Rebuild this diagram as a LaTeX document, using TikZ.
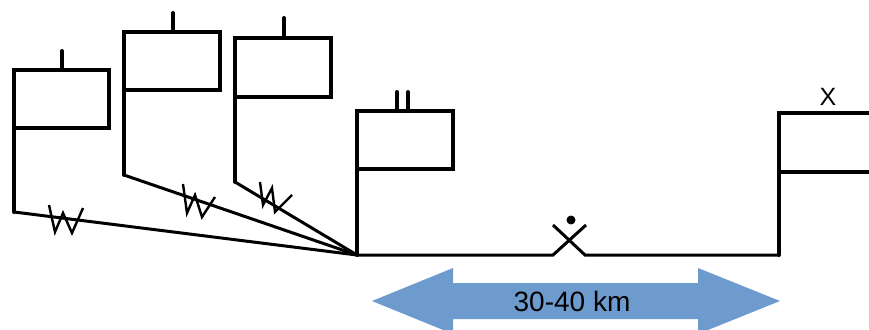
\documentclass[tikz,border=0pt]{standalone}
\usepackage{fontspec}
\setmainfont{Liberation Sans}
\definecolor{arrowblue}{RGB}{110,155,206}
\begin{document}
\begin{tikzpicture}[x=1pt,y=-1pt,
  boxline/.style={line width=4pt, line cap=round, line join=miter},
  wire/.style={line width=3pt, line join=miter},
  zig/.style={line width=2.4pt, line join=miter},
  lbl/.style={inner sep=0pt, font=\fontsize{25}{25}\selectfont}]
\useasboundingbox (0,0) rectangle (869,329);
\clip (0,0) rectangle (869,329);
% hub
\coordinate (hub) at (357,255);
% box 1
\coordinate (b1tl) at (14,70); \coordinate (b1br) at (109,128);
\coordinate (b1t) at (62,51); \coordinate (b1bot) at (14,212);
\draw[boxline] (b1tl) rectangle (b1br);
\draw[boxline] (b1t) -- (b1t |- b1tl);
\draw[boxline] (b1tl |- b1br) -- (b1bot);
\draw[wire] (b1bot) -- (hub);
% box 2
\coordinate (b2tl) at (124,32); \coordinate (b2br) at (220,90);
\coordinate (b2t) at (173,13); \coordinate (b2bot) at (124,175);
\draw[boxline] (b2tl) rectangle (b2br);
\draw[boxline] (b2t) -- (b2t |- b2tl);
\draw[boxline] (b2tl |- b2br) -- (b2bot);
\draw[wire] (b2bot) -- (hub);
% box 3
\coordinate (b3tl) at (235,38); \coordinate (b3br) at (331,97);
\coordinate (b3t) at (284,18); \coordinate (b3bot) at (235,182);
\draw[boxline] (b3tl) rectangle (b3br);
\draw[boxline] (b3t) -- (b3t |- b3tl);
\draw[boxline] (b3tl |- b3br) -- (b3bot);
\draw[wire] (b3bot) -- (hub);
% box 4 (double tick)
\coordinate (b4tl) at (357,111); \coordinate (b4br) at (453,169);
\coordinate (b4ta) at (397,92); \coordinate (b4tb) at (408,92);
\draw[boxline] (b4tl) rectangle (b4br);
\draw[boxline] (b4ta) -- (b4ta |- b4tl);
\draw[boxline] (b4tb) -- (b4tb |- b4tl);
\draw[boxline] (b4tl |- b4br) -- (hub);
% W marks
\draw[zig] (49,205) -- (55,232) -- (63,213) -- (72,233) -- (83,208);
\draw[zig] (183,184) -- (187,213) -- (195,195) -- (202,217) -- (215,197);
\draw[zig] (260,182) -- (263,205) -- (272,188) -- (275,212) -- (292,195);
% main line with crossing
\coordinate (xa) at (553,255); \coordinate (xb) at (585,255);
\coordinate (xc) at (586,225); \coordinate (xd) at (553,225);
\coordinate (r) at (779,255);
\draw[wire] (hub) -- (xa) -- (xc);
\draw[wire] (xd) -- (xb) -- (r);
\fill (571,220) circle (4.5);
% right box
\coordinate (rtl) at (779,113); \coordinate (rmid) at (779,172);
\draw[boxline] (r) -- (rtl) -- (875,113);
\draw[boxline] (rmid) -- (875,172);
\node[lbl] (xlbl) at (828,97) {X};
% distance arrow
\fill[arrowblue] (372,301) -- (453,268) -- (453,283) -- (698,283) -- (698,268)
  -- (780,301) -- (698,334) -- (698,319) -- (453,319) -- (453,334) -- cycle;
\node[inner sep=0pt, font=\fontsize{28}{28}\selectfont] (dist) at (572,301) {30-40 km};
\end{tikzpicture}
\end{document}
